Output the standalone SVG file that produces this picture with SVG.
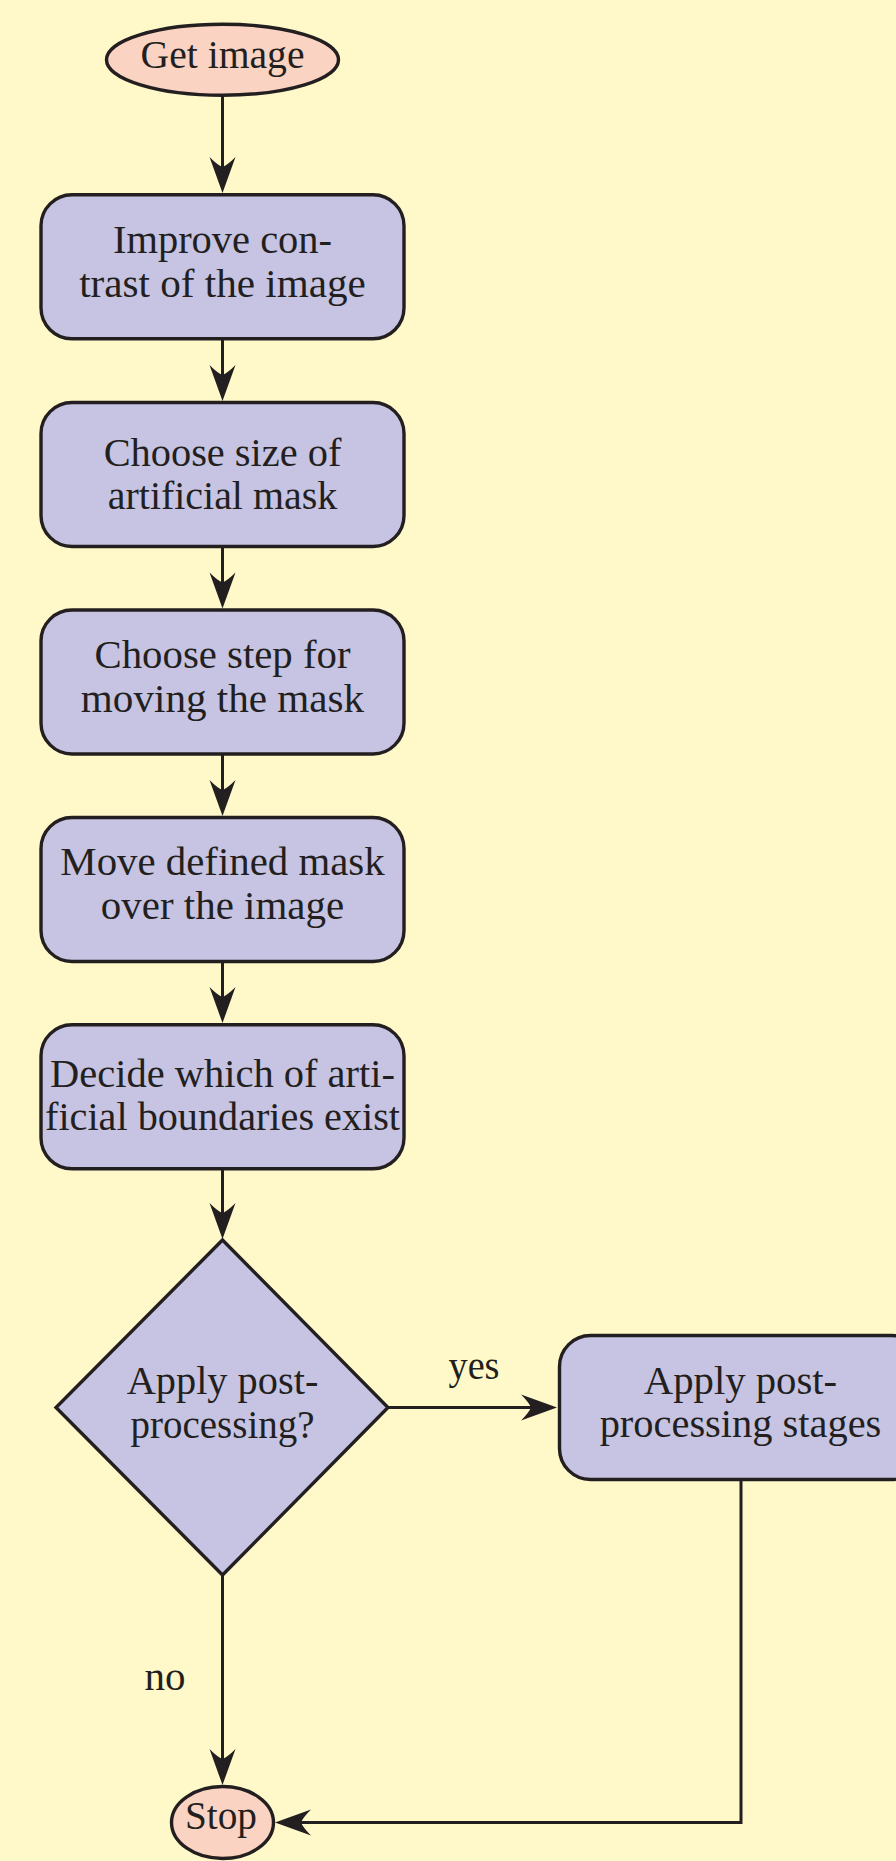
<svg xmlns="http://www.w3.org/2000/svg" width="896" height="1861" viewBox="0 0 896 1861">
<style>
.bg{fill:#fff9c9}
.box{fill:#c6c4e2;stroke:#231f20;stroke-width:3.4}
.term{fill:#fbd3c2;stroke:#231f20;stroke-width:3.4}
.t{font-family:"Liberation Serif","Times New Roman",serif;font-size:40.5px;fill:#231f20;text-anchor:middle}
.c{fill:none;stroke:#231f20;stroke-width:3}
</style>
<defs>
<marker id="ah" markerUnits="userSpaceOnUse" markerWidth="40" markerHeight="30" refX="30" refY="15" orient="auto">
<path d="M38,15 L2,2 Q10,10 12,15 Q10,20 2,28 Z" fill="#231f20"/>
</marker>
</defs>
<rect class="bg" x="0" y="0" width="896" height="1861"/>
<g id="connectors">
<line class="c" x1="222.5" y1="97" x2="222.5" y2="185" marker-end="url(#ah)"/>
<line class="c" x1="222.5" y1="340" x2="222.5" y2="393" marker-end="url(#ah)"/>
<line class="c" x1="222.5" y1="547" x2="222.5" y2="600.5" marker-end="url(#ah)"/>
<line class="c" x1="222.5" y1="755" x2="222.5" y2="808" marker-end="url(#ah)"/>
<line class="c" x1="222.5" y1="962" x2="222.5" y2="1015" marker-end="url(#ah)"/>
<line class="c" x1="222.5" y1="1169" x2="222.5" y2="1231" marker-end="url(#ah)"/>
<line class="c" x1="389" y1="1407.5" x2="549" y2="1407.5" marker-end="url(#ah)"/>
<line class="c" x1="222.5" y1="1576" x2="222.5" y2="1777" marker-end="url(#ah)"/>
<polyline class="c" points="741,1481 741,1822.5 283,1822.5" marker-end="url(#ah)"/>
<text class="t" x="474" y="1379" textLength="51" lengthAdjust="spacingAndGlyphs">yes</text>
<text class="t" x="165" y="1690" textLength="41" lengthAdjust="spacingAndGlyphs">no</text>
</g>
<g id="n-start">
<ellipse class="term" cx="222.5" cy="59.7" rx="116" ry="35.5"/>
<text class="t" x="222.5" y="68.3" textLength="164" lengthAdjust="spacingAndGlyphs">Get image</text>
</g>
<g id="n-contrast">
<rect class="box" x="41" y="194.8" width="363" height="144" rx="31"/>
<text class="t" x="222.5" y="253.3" textLength="219" lengthAdjust="spacingAndGlyphs">Improve con-</text>
<text class="t" x="222.5" y="297" textLength="286.7" lengthAdjust="spacingAndGlyphs">trast of the image</text>
</g>
<g id="n-size">
<rect class="box" x="41" y="402.5" width="363" height="144" rx="31"/>
<text class="t" x="222.5" y="466" textLength="237.7" lengthAdjust="spacingAndGlyphs">Choose size of</text>
<text class="t" x="222.5" y="509" textLength="229.3" lengthAdjust="spacingAndGlyphs">artificial mask</text>
</g>
<g id="n-step">
<rect class="box" x="41" y="610" width="363" height="144" rx="31"/>
<text class="t" x="222.5" y="668" textLength="256" lengthAdjust="spacingAndGlyphs">Choose step for</text>
<text class="t" x="222.5" y="711.5" textLength="283.3" lengthAdjust="spacingAndGlyphs">moving the mask</text>
</g>
<g id="n-move">
<rect class="box" x="41" y="817.5" width="363" height="144" rx="31"/>
<text class="t" x="222.5" y="875" textLength="324.3" lengthAdjust="spacingAndGlyphs">Move defined mask</text>
<text class="t" x="222.5" y="919" textLength="243.3" lengthAdjust="spacingAndGlyphs">over the image</text>
</g>
<g id="n-decide">
<rect class="box" x="41" y="1024.8" width="363" height="144" rx="31"/>
<text class="t" x="222.5" y="1087" textLength="345" lengthAdjust="spacingAndGlyphs">Decide which of arti-</text>
<text class="t" x="222.5" y="1130" textLength="355" lengthAdjust="spacingAndGlyphs">ficial boundaries exist</text>
</g>
<g id="n-question">
<polygon class="box" points="222.5,1240 388,1407.5 222.5,1575 56,1407.5"/>
<text class="t" x="222.5" y="1394" textLength="191.7" lengthAdjust="spacingAndGlyphs">Apply post-</text>
<text class="t" x="222.5" y="1438" textLength="184" lengthAdjust="spacingAndGlyphs">processing?</text>
</g>
<g id="n-post">
<rect class="box" x="559.5" y="1335.5" width="363" height="144" rx="31"/>
<text class="t" x="740.5" y="1394" textLength="193.3" lengthAdjust="spacingAndGlyphs">Apply post-</text>
<text class="t" x="740.5" y="1437" textLength="281.7" lengthAdjust="spacingAndGlyphs">processing stages</text>
</g>
<g id="n-stop">
<ellipse class="term" cx="222.5" cy="1822.5" rx="51" ry="36"/>
<text class="t" x="221" y="1829.3" textLength="72" lengthAdjust="spacingAndGlyphs">Stop</text>
</g>
</svg>
